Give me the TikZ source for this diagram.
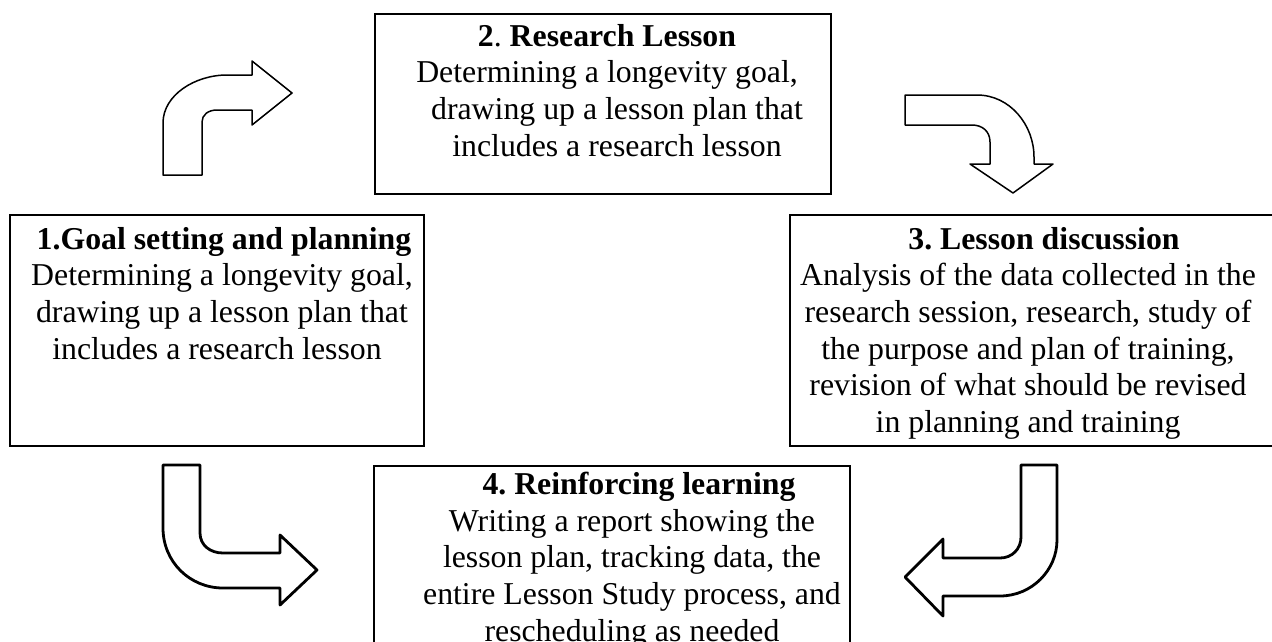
\documentclass[tikz,border=0pt]{standalone}
\usepackage{fontspec}
\setmainfont{Liberation Serif}
\frenchspacing
\begin{document}
\begin{tikzpicture}[x=1pt,y=-1pt,
  box/.style={draw, line width=1.8pt, inner sep=0pt, anchor=north west},
  txt/.style={align=center, inner sep=0pt, anchor=north, font=\fontsize{31.8}{36.6}\selectfont},
  arrthin/.style={draw, line width=1.5pt, line join=round, fill=white},
  arrthick/.style={draw, line width=2.8pt, line join=round, fill=white}]
\useasboundingbox (0,0) rectangle (1272,641);
\clip (0,0) rectangle (1272,641);
% boxes
\node (b2) [box, minimum width=456pt, minimum height=180pt] at (374,13) {};
\node (b1) [box, minimum width=414pt, minimum height=231pt] at (9,214) {};
\node (b3) [box, minimum width=520pt, minimum height=231pt] at (789,214) {};
\node (b4) [box, minimum width=476pt, minimum height=260pt] at (373,465) {};
% texts
\node (t2) [txt] at (607,24) {\textbf{2}. \textbf{Research Lesson}\\Determining a longevity goal,\\\hspace*{20pt}drawing up a lesson plan that\\\hspace*{20pt}includes a research lesson};
\node (t1) [txt] at (222,227) {\hspace*{4pt}\textbf{1.Goal setting and planning}\\Determining a longevity goal,\\drawing up a lesson plan that\hspace*{12pt}\\includes a research lesson\hspace*{10pt}};
\node (t3) [txt] at (1028,227) {\hspace*{32pt}\textbf{3. Lesson discussion}\\Analysis of the data collected in the\\research session, research, study of\\the purpose and plan of training,\\revision of what should be revised\\in planning and training};
\node (t4) [txt] at (632,472) {\hspace*{14pt}\textbf{4. Reinforcing learning}\\Writing a report showing the\\lesson plan, tracking data, the\\entire Lesson Study process, and\\rescheduling as needed};
% arrows
\path[arrthin] (163,175) -- (163,123) .. controls (163,95) and (195,75) .. (227,75) -- (252,75) -- (252,61) -- (292,93) -- (252,125) -- (252,110) -- (217,110) .. controls (208,110) and (202,115) .. (202,122) -- (202,175) -- cycle;
\path[arrthin] (905,95) -- (977,95) .. controls (1010,95) and (1034,125) .. (1034,157) -- (1034,164) -- (1053,164) -- (1013,193) -- (970,164) -- (990,164) -- (990,142) .. controls (990,131) and (982,125) .. (972,125) -- (905,125) -- cycle;
\path[arrthick] (163,465) -- (200,465) -- (200,533) .. controls (200,545) and (210,553) .. (223,553) -- (280,553) -- (280,535) -- (317,570) -- (280,605) -- (280,588) -- (223,588) .. controls (190,588) and (163,562) .. (163,528) -- cycle;
\path[arrthick] (1057,465) -- (1021,465) -- (1021,537) .. controls (1021,549) and (1012,558) .. (1000,558) -- (943,558) -- (943,539) -- (905,577) -- (943,616) -- (943,596) -- (1000,596) .. controls (1032,596) and (1057,570) .. (1057,540) -- cycle;
\end{tikzpicture}
\end{document}
